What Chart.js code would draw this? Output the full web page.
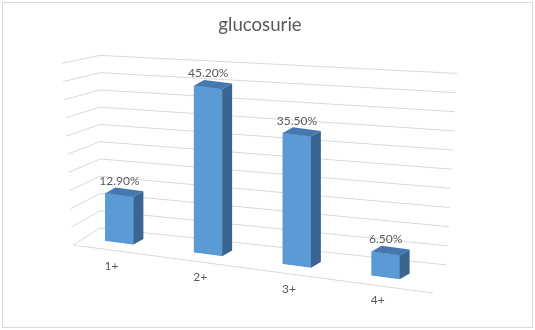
<!DOCTYPE html>
<html>
<head>
<meta charset="utf-8">
<script src="https://cdn.jsdelivr.net/npm/chart.js@4.4.1/dist/chart.umd.min.js"></script>
<style>
  html, body { margin: 0; padding: 0; background: #fff; }
  #wrap { position: relative; width: 535px; height: 330px; }
</style>
</head>
<body>
<div id="wrap"><canvas id="glucoChart"></canvas></div>
<script>
// data
var categories = ['1+', '2+', '3+', '4+'];
var percentages = [12.9, 45.2, 35.5, 6.5];
var yTicks = [0, 5, 10, 15, 20, 25, 30, 35, 40, 45, 50];

var TEXT_COLOR = '#595959';
var GRID_COLOR = '#D9D9D9';
var FRONT_COLOR = '#5B9BD5';
var TOP_COLOR = '#4677AE';
var SIDE_COLOR = '#3A6591';
var FONT = 'Lato, "Open Sans", sans-serif';

var SHEAR = 0.13;          // floor slopes down to the right
var DEPTH_X = 10, DEPTH_Y = -7;   // bar depth

// 3D frame corners as offsets from the chart area
// (L = left, R = right, T = top, B = bottom)
var frame = {
    frontLeft0: [-2, 8, 'L', 'B'],
    frontLeft1: [-13, 11, 'L', 'T'],
    backLeft0: [25, -9, 'L', 'B'],
    backLeft1: [25, 3, 'L', 'T'],
    backRight0: [17, 28, 'R', 'B'],
    backRight1: [27, 21, 'R', 'T'],
    frontRight0: [3, 56, 'R', 'B']
};

function corner(a, name) {
    var f = frame[name];
    return [(f[2] === 'L' ? a.left : a.right) + f[0], (f[3] === 'T' ? a.top : a.bottom) + f[1]];
}
function lerp(p, q, t) {
    return [p[0] + (q[0] - p[0]) * t, p[1] + (q[1] - p[1]) * t];
}
function line(ctx, p, q) {
    ctx.beginPath();
    ctx.moveTo(p[0], p[1]);
    ctx.lineTo(q[0], q[1]);
    ctx.stroke();
}

var perspectivePlugin = {
    id: 'perspective',
    beforeDraw: function (chart) {
        var ctx = chart.ctx;
        ctx.save();
        ctx.strokeStyle = GRID_COLOR;
        ctx.lineWidth = 1;
        ctx.strokeRect(2.5, 2.5, chart.width - 5, chart.height - 5);
        ctx.restore();
    },
    beforeDatasetsDraw: function (chart) {
        var ctx = chart.ctx, a = chart.chartArea, ys = chart.scales.y;
        var fl0 = corner(a, 'frontLeft0'), fl1 = corner(a, 'frontLeft1');
        var bl0 = corner(a, 'backLeft0'), bl1 = corner(a, 'backLeft1');
        var br0 = corner(a, 'backRight0'), br1 = corner(a, 'backRight1');
        var fr0 = corner(a, 'frontRight0');

        ctx.save();
        ctx.strokeStyle = GRID_COLOR;
        ctx.lineWidth = 1;
        ys.ticks.forEach(function (tick) {
            var t = (ys.bottom - ys.getPixelForValue(tick.value)) / (ys.bottom - ys.top);
            var bl = lerp(bl0, bl1, t);
            line(ctx, bl, lerp(br0, br1, t));
            line(ctx, lerp(fl0, fl1, t), bl);
        });
        line(ctx, fl0, fr0);
        ctx.restore();

        // bars are drawn on the sloping floor
        ctx.save();
        ctx.transform(1, SHEAR, 0, 1, 0, -SHEAR * a.left);
    },
    afterDatasetsDraw: function (chart) {
        var ctx = chart.ctx, a = chart.chartArea;
        var bars = chart.getDatasetMeta(0).data;
        bars.forEach(function (bar) {
            var p = bar.getProps(['x', 'y', 'base', 'width'], true);
            var l = p.x - p.width / 2, r = p.x + p.width / 2;
            ctx.fillStyle = SIDE_COLOR;
            ctx.beginPath();
            ctx.moveTo(r, p.y);
            ctx.lineTo(r + DEPTH_X, p.y + DEPTH_Y);
            ctx.lineTo(r + DEPTH_X, p.base + DEPTH_Y);
            ctx.lineTo(r, p.base);
            ctx.closePath();
            ctx.fill();
            ctx.fillStyle = TOP_COLOR;
            ctx.beginPath();
            ctx.moveTo(l, p.y);
            ctx.lineTo(r, p.y);
            ctx.lineTo(r + DEPTH_X, p.y + DEPTH_Y);
            ctx.lineTo(l + DEPTH_X, p.y + DEPTH_Y);
            ctx.closePath();
            ctx.fill();
        });
        ctx.restore();

        // value labels and category labels, upright text
        ctx.save();
        ctx.fillStyle = TEXT_COLOR;
        ctx.font = '12px ' + FONT;
        ctx.textAlign = 'center';
        ctx.textBaseline = 'middle';
        var ds = chart.data.datasets[0];
        bars.forEach(function (bar, i) {
            var p = bar.getProps(['x', 'y', 'base'], true);
            var shift = SHEAR * (p.x - a.left);
            ctx.fillText(ds.data[i].toFixed(2) + '%', p.x, p.y + shift - 14);
        });
        var xs = chart.scales.x, ys = chart.scales.y;
        chart.data.labels.forEach(function (label, i) {
            var x = xs.getPixelForTick(i);
            var bottom = ys.getPixelForValue(0) + SHEAR * (x - a.left);
            ctx.fillText(label, x - 8, bottom + 23);
        });
        ctx.restore();
    }
};

var ctx = document.getElementById('glucoChart').getContext('2d');
var glucoChart = new Chart(ctx, {
    type: 'bar',
    data: {
        labels: categories,
        datasets: [{
            data: percentages,
            backgroundColor: FRONT_COLOR,
            borderWidth: 0,
            barThickness: 28
        }]
    },
    options: {
        responsive: true,
        maintainAspectRatio: false,
        animation: false,
        layout: {
            padding: { left: 75, right: 90, top: 4, bottom: 93 }
        },
        scales: {
            x: { display: false },
            y: {
                position: 'right',
                min: 0,
                max: 50,
                afterBuildTicks: function (scale) {
                    scale.ticks = yTicks.map(function (v) { return { value: v }; });
                },
                afterFit: function (scale) { scale.width = 15; },
                ticks: { display: false },
                grid: { display: false },
                border: { display: false }
            }
        },
        plugins: {
            legend: { display: false },
            tooltip: { enabled: false },
            title: {
                display: true,
                text: 'glucosurie',
                color: TEXT_COLOR,
                font: { family: FONT, size: 18.67, weight: 'normal' },
                padding: { top: 10, bottom: 16 }
            }
        }
    },
    plugins: [perspectivePlugin]
});
</script>
</body>
</html>
